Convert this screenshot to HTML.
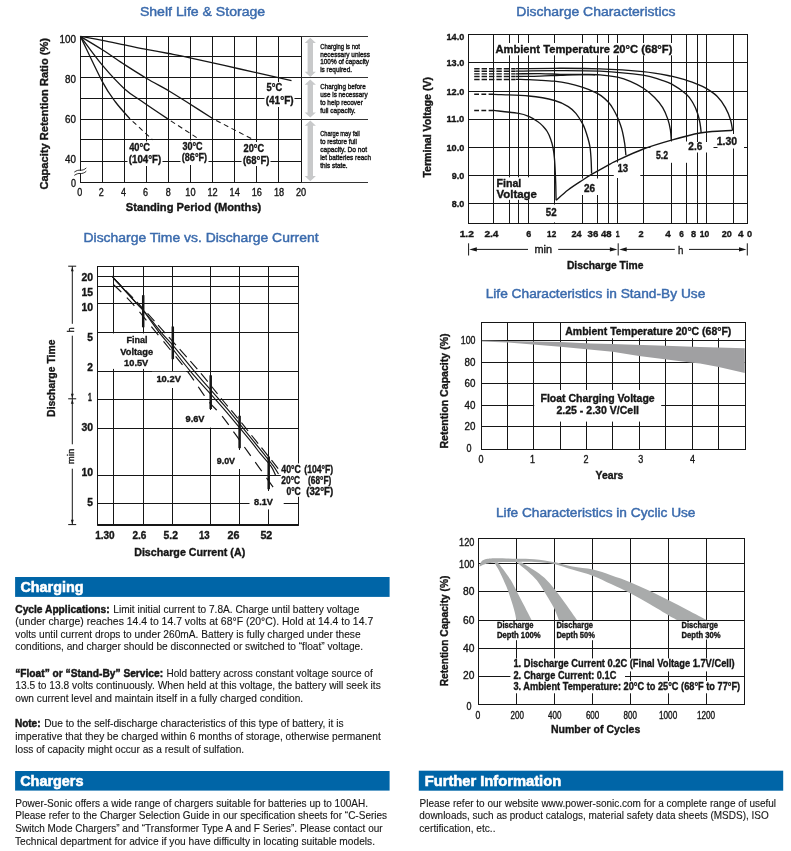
<!DOCTYPE html>
<html lang="en"><head><meta charset="utf-8"><title>Battery characteristics</title>
<style>
html,body{margin:0;padding:0;background:#fff}
svg{display:block}
text{font-family:"Liberation Sans",sans-serif}
</style></head><body>
<svg width="791" height="851" viewBox="0 0 791 851">
<text x="139.9" y="15.7" font-size="13.4" textLength="125.3" lengthAdjust="spacingAndGlyphs" fill="#3b6bad" stroke="#3b6bad" stroke-width="0.45">Shelf Life &amp; Storage</text>
<g id="c1">
<path d="M80.5 36.0V183.0M102.5 36.0V183.0M124.5 36.0V183.0M146.5 36.0V183.0M168.5 36.0V183.0M190.5 36.0V183.0M212.5 36.0V183.0M234.5 36.0V183.0M256.5 36.0V183.0M278.5 36.0V183.0M301.5 36.0V183.0M80.0 36.5H302.0M80.0 56.5H302.0M80.0 77.5H302.0M80.0 98.5H302.0M80.0 119.5H302.0M80.0 139.5H302.0M80.0 161.5H302.0M80.0 182.5H302.0" stroke="#161616" stroke-width="1.0" fill="none"/>
<rect x="127.5" y="141.5" width="35.0" height="24.5" fill="#fff"/>
<rect x="180.5" y="140.5" width="28.0" height="24.5" fill="#fff"/>
<rect x="241.5" y="142.0" width="29.0" height="24.0" fill="#fff"/>
<rect x="264.5" y="82.0" width="30.0" height="25.0" fill="#fff"/>
<line x1="301.3" y1="36.5" x2="368.0" y2="36.5" stroke="#333" stroke-width="1.2"/>
<line x1="301.3" y1="77.5" x2="368.0" y2="77.5" stroke="#333" stroke-width="1.2"/>
<line x1="301.3" y1="119.5" x2="368.0" y2="119.5" stroke="#333" stroke-width="1.2"/>
<line x1="301.3" y1="182.5" x2="368.0" y2="182.5" stroke="#333" stroke-width="1.2"/>
<path d="M310.3 37.8l5.6 5.2h-2.8999999999999995V71.8h2.8999999999999995L310.3 77l-5.6 -5.2h2.8999999999999995V43.0h-2.8999999999999995z" fill="#c8c9ca"/>
<path d="M310.3 79.6l5.6 5.2h-2.8999999999999995V112.39999999999999h2.8999999999999995L310.3 117.6l-5.6 -5.2h2.8999999999999995V84.8h-2.8999999999999995z" fill="#c8c9ca"/>
<path d="M310.3 120.5l5.6 5.2h-2.8999999999999995V176.10000000000002h2.8999999999999995L310.3 181.3l-5.6 -5.2h2.8999999999999995V125.7h-2.8999999999999995z" fill="#c8c9ca"/>
<path d="M80.4 36.4C84.1 37.0 94.9 38.9 102.3 40.3C109.7 41.7 117.3 43.4 124.6 44.9C131.9 46.4 139.0 48.0 146.3 49.4C153.6 50.8 161.3 52.1 168.6 53.5C175.9 54.9 178.1 55.2 190.0 57.8C201.9 60.4 223.1 65.2 240.0 69.0C256.9 72.8 282.9 78.7 291.5 80.6" stroke="#161616" stroke-width="1.3" fill="none"/>
<path d="M80.4 36.4C84.1 38.6 94.9 45.0 102.3 49.7C109.7 54.4 117.3 59.8 124.6 64.6C131.9 69.3 139.0 73.8 146.3 78.2C153.6 82.6 161.8 86.7 168.6 90.7C175.3 94.7 179.4 97.3 186.8 102.0C194.2 106.7 208.6 116.0 213.0 118.8" stroke="#161616" stroke-width="1.3" fill="none"/>
<path d="M80.4 36.4C84.1 41.2 94.9 56.5 102.3 65.2C109.7 74.0 117.8 82.8 124.6 88.9C131.3 95.0 135.6 97.0 142.8 102.0C150.0 107.0 163.6 116.1 167.8 118.9" stroke="#161616" stroke-width="1.3" fill="none"/>
<path d="M80.4 36.4C84.1 43.9 96.5 70.7 102.3 81.6C108.1 92.5 110.9 95.8 115.5 102.0C120.1 108.2 127.6 116.1 130.0 118.9" stroke="#161616" stroke-width="1.3" fill="none"/>
<line x1="213.0" y1="118.8" x2="253.0" y2="139.5" stroke="#161616" stroke-width="1.05" stroke-dasharray="5 3.6" stroke-dashoffset="5"/>
<line x1="167.8" y1="118.9" x2="198.9" y2="139.0" stroke="#161616" stroke-width="1.05" stroke-dasharray="5 3.6" stroke-dashoffset="5"/>
<line x1="130.0" y1="118.9" x2="152.6" y2="139.8" stroke="#161616" stroke-width="1.05" stroke-dasharray="5 3.6" stroke-dashoffset="5"/>
<rect x="79.0" y="170.9" width="3.0" height="2.3" fill="#fff"/>
<path d="M74.3 172.1c2.4 -1.7 4.2 -2.1 6 -1.9s4.2 -0.5 6 -2.3M74.3 175.4c2.4 -1.7 4.2 -2.1 6 -1.9s4.2 -0.5 6 -2.3" stroke="#161616" stroke-width="0.9" fill="none"/>
<text x="59.4" y="42.7" font-size="10.0" textLength="16.5" lengthAdjust="spacingAndGlyphs" fill="#161616" stroke="#161616" stroke-width="0.35">100</text>
<text x="65.0" y="82.5" font-size="10.0" textLength="10.9" lengthAdjust="spacingAndGlyphs" fill="#161616" stroke="#161616" stroke-width="0.35">80</text>
<text x="65.0" y="122.7" font-size="10.0" textLength="10.9" lengthAdjust="spacingAndGlyphs" fill="#161616" stroke="#161616" stroke-width="0.35">60</text>
<text x="65.0" y="163.1" font-size="10.0" textLength="10.9" lengthAdjust="spacingAndGlyphs" fill="#161616" stroke="#161616" stroke-width="0.35">40</text>
<text x="70.9" y="186.6" font-size="10.0" textLength="5.0" lengthAdjust="spacingAndGlyphs" fill="#161616" stroke="#161616" stroke-width="0.35">0</text>
<text x="77.3" y="195.6" font-size="10.0" textLength="5.0" lengthAdjust="spacingAndGlyphs" fill="#161616" stroke="#161616" stroke-width="0.35">0</text>
<text x="98.8" y="195.6" font-size="10.0" textLength="5.0" lengthAdjust="spacingAndGlyphs" fill="#161616" stroke="#161616" stroke-width="0.35">2</text>
<text x="121.0" y="195.6" font-size="10.0" textLength="5.0" lengthAdjust="spacingAndGlyphs" fill="#161616" stroke="#161616" stroke-width="0.35">4</text>
<text x="143.1" y="195.6" font-size="10.0" textLength="5.0" lengthAdjust="spacingAndGlyphs" fill="#161616" stroke="#161616" stroke-width="0.35">6</text>
<text x="165.8" y="195.6" font-size="10.0" textLength="5.0" lengthAdjust="spacingAndGlyphs" fill="#161616" stroke="#161616" stroke-width="0.35">8</text>
<text x="185.3" y="195.6" font-size="10.0" textLength="10.2" lengthAdjust="spacingAndGlyphs" fill="#161616" stroke="#161616" stroke-width="0.35">10</text>
<text x="207.5" y="195.6" font-size="10.0" textLength="10.2" lengthAdjust="spacingAndGlyphs" fill="#161616" stroke="#161616" stroke-width="0.35">12</text>
<text x="229.6" y="195.6" font-size="10.0" textLength="10.2" lengthAdjust="spacingAndGlyphs" fill="#161616" stroke="#161616" stroke-width="0.35">14</text>
<text x="251.7" y="195.6" font-size="10.0" textLength="10.2" lengthAdjust="spacingAndGlyphs" fill="#161616" stroke="#161616" stroke-width="0.35">16</text>
<text x="273.9" y="195.6" font-size="10.0" textLength="10.2" lengthAdjust="spacingAndGlyphs" fill="#161616" stroke="#161616" stroke-width="0.35">18</text>
<text x="296.0" y="195.6" font-size="10.0" textLength="10.2" lengthAdjust="spacingAndGlyphs" fill="#161616" stroke="#161616" stroke-width="0.35">20</text>
<text x="125.8" y="211.4" font-size="10.4" textLength="135.5" lengthAdjust="spacingAndGlyphs" font-weight="bold" fill="#161616" stroke="#161616" stroke-width="0.35">Standing Period (Months)</text>
<text transform="translate(47.6 113.8) rotate(-90)" font-size="10.2" fill="#161616" text-anchor="middle" textLength="151.6" lengthAdjust="spacingAndGlyphs" font-weight="bold" stroke="#161616" stroke-width="0.35">Capacity Retention Ratio (%)</text>
<text x="129.2" y="150.7" font-size="10.6" textLength="20.8" lengthAdjust="spacingAndGlyphs" font-weight="bold" fill="#161616" stroke="#161616" stroke-width="0.35">40°C</text>
<text x="128.8" y="163.1" font-size="10.6" textLength="32.4" lengthAdjust="spacingAndGlyphs" font-weight="bold" fill="#161616" stroke="#161616" stroke-width="0.35">(104°F)</text>
<text x="182.4" y="149.7" font-size="10.6" textLength="20.2" lengthAdjust="spacingAndGlyphs" font-weight="bold" fill="#161616" stroke="#161616" stroke-width="0.35">30°C</text>
<text x="181.8" y="161.0" font-size="10.6" textLength="25.3" lengthAdjust="spacingAndGlyphs" font-weight="bold" fill="#161616" stroke="#161616" stroke-width="0.35">(86°F)</text>
<text x="243.5" y="151.8" font-size="10.6" textLength="20.6" lengthAdjust="spacingAndGlyphs" font-weight="bold" fill="#161616" stroke="#161616" stroke-width="0.35">20°C</text>
<text x="242.9" y="163.5" font-size="10.6" textLength="26.5" lengthAdjust="spacingAndGlyphs" font-weight="bold" fill="#161616" stroke="#161616" stroke-width="0.35">(68°F)</text>
<text x="266.5" y="91.2" font-size="10.6" textLength="15.7" lengthAdjust="spacingAndGlyphs" font-weight="bold" fill="#161616" stroke="#161616" stroke-width="0.35">5°C</text>
<text x="265.7" y="104.1" font-size="10.6" textLength="27.9" lengthAdjust="spacingAndGlyphs" font-weight="bold" fill="#161616" stroke="#161616" stroke-width="0.35">(41°F)</text>
<text x="320.2" y="48.7" font-size="7.4" textLength="39.7" lengthAdjust="spacingAndGlyphs" fill="#161616" stroke="#161616" stroke-width="0.4">Charging is not</text>
<text x="320.2" y="56.5" font-size="7.4" textLength="49.8" lengthAdjust="spacingAndGlyphs" fill="#161616" stroke="#161616" stroke-width="0.4">necessary unless</text>
<text x="320.2" y="64.4" font-size="7.4" textLength="48.9" lengthAdjust="spacingAndGlyphs" fill="#161616" stroke="#161616" stroke-width="0.4">100% of capacity</text>
<text x="320.2" y="72.0" font-size="7.4" textLength="31.8" lengthAdjust="spacingAndGlyphs" fill="#161616" stroke="#161616" stroke-width="0.4">is required.</text>
<text x="320.2" y="88.8" font-size="7.4" textLength="45.5" lengthAdjust="spacingAndGlyphs" fill="#161616" stroke="#161616" stroke-width="0.4">Charging before</text>
<text x="320.2" y="96.8" font-size="7.4" textLength="47.4" lengthAdjust="spacingAndGlyphs" fill="#161616" stroke="#161616" stroke-width="0.4">use is necessary</text>
<text x="320.2" y="105.0" font-size="7.4" textLength="42.6" lengthAdjust="spacingAndGlyphs" fill="#161616" stroke="#161616" stroke-width="0.4">to help recover</text>
<text x="320.2" y="112.9" font-size="7.4" textLength="35.4" lengthAdjust="spacingAndGlyphs" fill="#161616" stroke="#161616" stroke-width="0.4">full capacity.</text>
<text x="320.2" y="135.7" font-size="7.4" textLength="39.7" lengthAdjust="spacingAndGlyphs" fill="#161616" stroke="#161616" stroke-width="0.4">Charge may fail</text>
<text x="320.2" y="144.0" font-size="7.4" textLength="36.7" lengthAdjust="spacingAndGlyphs" fill="#161616" stroke="#161616" stroke-width="0.4">to restore full</text>
<text x="320.2" y="151.8" font-size="7.4" textLength="46.8" lengthAdjust="spacingAndGlyphs" fill="#161616" stroke="#161616" stroke-width="0.4">capacity. Do not</text>
<text x="320.2" y="159.8" font-size="7.4" textLength="50.8" lengthAdjust="spacingAndGlyphs" fill="#161616" stroke="#161616" stroke-width="0.4">let batteries reach</text>
<text x="320.2" y="167.6" font-size="7.4" textLength="27.4" lengthAdjust="spacingAndGlyphs" fill="#161616" stroke="#161616" stroke-width="0.4">this state.</text>
</g>
<text x="516.3" y="15.7" font-size="13.4" textLength="159.2" lengthAdjust="spacingAndGlyphs" fill="#3b6bad" stroke="#3b6bad" stroke-width="0.45">Discharge Characteristics</text>
<g id="c2">
<path d="M468.5 34.0V224.0M493.5 34.0V224.0M509.5 34.0V224.0M518.5 34.0V224.0M528.5 34.0V224.0M554.5 34.0V224.0M582.5 34.0V224.0M597.5 34.0V224.0M608.5 34.0V224.0M617.5 34.0V224.0M643.5 34.0V224.0M671.5 34.0V224.0M686.5 34.0V224.0M697.5 34.0V224.0M706.5 34.0V224.0M733.5 34.0V224.0M747.5 34.0V224.0M468.0 34.5H748.0M468.0 62.5H748.0M468.0 91.5H748.0M468.0 119.5H748.0M468.0 147.5H748.0M468.0 175.5H748.0M468.0 203.5H748.0M468.0 223.5H748.0" stroke="#161616" stroke-width="1.0" fill="none"/>
<rect x="494.5" y="43.0" width="180.0" height="12.3" fill="#fff"/>
<rect x="494.6" y="177.3" width="44.0" height="22.5" fill="#fff"/>
<rect x="544.0" y="204.6" width="14.0" height="17.8" fill="#fff"/>
<rect x="580.5" y="178.5" width="18.5" height="16.5" fill="#fff"/>
<rect x="613.8" y="162.5" width="26.5" height="15.5" fill="#fff"/>
<rect x="650.4" y="141.5" width="37.0" height="21.3" fill="#fff"/>
<rect x="686.0" y="142.0" width="27.5" height="10.5" fill="#fff"/>
<rect x="717.5" y="134.0" width="26.5" height="14.5" fill="#fff"/>
<path d="M556.1 200.3C558.1 198.6 563.7 193.3 568.0 190.0C572.3 186.7 578.0 183.1 582.0 180.5C586.0 177.9 587.3 176.9 592.0 174.2C596.7 171.5 605.8 166.4 610.0 164.1C614.2 161.8 612.0 162.8 617.5 160.3C623.0 157.8 634.3 152.4 643.3 149.0C652.3 145.6 662.0 142.8 671.5 140.1C681.0 137.4 691.7 134.5 700.0 133.0C708.3 131.5 716.0 131.4 721.4 131.0C726.8 130.6 730.7 130.5 732.6 130.4" stroke="#161616" stroke-width="1.35" fill="none"/>
<path d="M493.5 110.4C497.7 110.9 512.8 112.4 518.7 113.4C524.6 114.4 525.6 115.0 528.8 116.4C532.0 117.8 535.5 120.1 537.9 121.7C540.3 123.3 541.5 124.6 543.0 126.2C544.5 127.8 545.9 129.4 547.2 131.5C548.5 133.6 549.7 136.4 550.6 139.0C551.5 141.6 552.3 144.0 552.9 147.2C553.5 150.4 554.0 153.7 554.4 158.0C554.8 162.3 555.1 168.3 555.3 173.0C555.5 177.7 555.7 181.4 555.8 186.0C555.9 190.6 556.0 197.9 556.1 200.3" stroke="#161616" stroke-width="1.35" fill="none"/>
<path d="M493.5 94.3C499.4 94.6 518.6 95.0 528.8 96.0C539.0 97.0 548.0 98.7 554.6 100.5C561.2 102.3 564.8 104.4 568.3 106.6C571.8 108.8 573.5 110.6 575.9 113.4C578.2 116.2 580.8 120.5 582.4 123.3C584.0 126.1 584.4 127.5 585.3 130.0C586.2 132.5 587.2 135.7 588.0 138.5C588.8 141.3 589.5 143.8 590.0 147.0C590.5 150.2 590.7 153.6 591.0 158.0C591.3 162.4 591.5 170.9 591.6 173.5" stroke="#161616" stroke-width="1.35" fill="none"/>
<path d="M516.0 79.3C518.2 79.4 524.8 79.5 529.0 79.7C533.2 79.9 536.8 80.0 541.0 80.3C545.2 80.5 549.8 80.7 554.3 81.2C558.8 81.7 563.6 82.4 568.2 83.4C572.8 84.4 577.9 85.8 582.1 87.2C586.3 88.6 590.4 90.2 593.5 91.6C596.6 93.0 598.5 93.8 601.0 95.6C603.5 97.4 606.4 100.0 608.5 102.3C610.6 104.6 612.0 106.9 613.5 109.5C615.0 112.1 616.6 115.3 617.7 117.8C618.8 120.3 619.5 122.2 620.3 124.5C621.1 126.8 621.8 128.8 622.5 131.9C623.2 135.0 624.0 139.1 624.6 143.0C625.2 146.9 625.7 153.2 625.9 155.3" stroke="#161616" stroke-width="1.35" fill="none"/>
<path d="M516.0 73.9C520.0 73.9 532.7 73.5 540.0 73.6C547.3 73.7 553.3 74.1 560.0 74.3C566.7 74.5 573.3 74.4 580.0 74.5C586.7 74.6 593.7 74.3 600.0 74.8C606.3 75.2 612.6 76.1 617.6 77.2C622.6 78.3 626.0 79.5 630.3 81.3C634.5 83.1 639.0 85.3 643.1 88.0C647.2 90.7 651.3 94.2 654.6 97.5C657.9 100.8 660.5 104.0 662.7 107.6C664.9 111.2 666.5 115.4 667.8 119.1C669.1 122.8 669.8 126.3 670.4 129.8C671.0 133.3 671.1 138.3 671.3 140.0" stroke="#161616" stroke-width="1.35" fill="none"/>
<path d="M516.0 76.5C520.0 76.4 532.7 76.3 540.0 76.1C547.3 75.9 553.3 75.5 560.0 75.3C566.7 75.1 574.2 74.8 580.0 74.7C585.8 74.6 592.5 74.7 595.0 74.7" stroke="#161616" stroke-width="1.35" fill="none"/>
<path d="M516.0 71.2C522.4 71.1 540.6 70.6 554.6 70.6C568.6 70.6 585.2 70.4 600.0 71.2C614.8 72.0 633.0 73.8 643.1 75.2C653.2 76.7 656.0 78.5 660.7 79.9C665.4 81.4 667.1 81.5 671.4 83.9C675.7 86.3 683.0 91.2 686.6 94.4C690.2 97.6 691.1 99.8 693.0 103.0C694.9 106.2 696.5 110.2 697.7 113.7C698.9 117.2 699.5 120.6 700.1 123.8C700.7 127.0 701.0 131.5 701.2 133.0" stroke="#161616" stroke-width="1.35" fill="none"/>
<path d="M516.0 68.7C522.4 68.6 540.6 68.3 554.6 68.3C568.6 68.3 585.2 68.2 600.0 68.8C614.8 69.3 631.2 70.4 643.1 71.6C655.0 72.8 664.1 74.8 671.4 76.2C678.6 77.7 682.2 79.0 686.6 80.3C691.0 81.6 694.4 82.9 697.7 84.3C701.0 85.7 702.9 86.4 706.2 88.4C709.5 90.4 714.1 93.3 717.3 96.5C720.5 99.7 723.2 103.7 725.4 107.6C727.6 111.5 729.3 115.9 730.5 119.7C731.7 123.5 732.2 128.5 732.5 130.3" stroke="#161616" stroke-width="1.35" fill="none"/>
<line x1="474.2" y1="68.7" x2="515.6" y2="68.7" stroke="#161616" stroke-width="1.35" stroke-dasharray="5.4 2"/>
<line x1="474.2" y1="71.2" x2="515.6" y2="71.2" stroke="#161616" stroke-width="1.35" stroke-dasharray="5.4 2"/>
<line x1="474.2" y1="73.9" x2="515.6" y2="73.9" stroke="#161616" stroke-width="1.35" stroke-dasharray="5.4 2"/>
<line x1="474.2" y1="76.5" x2="515.6" y2="76.5" stroke="#161616" stroke-width="1.35" stroke-dasharray="5.4 2"/>
<line x1="474.2" y1="79.5" x2="515.6" y2="79.5" stroke="#161616" stroke-width="1.35" stroke-dasharray="5.4 2"/>
<line x1="474.2" y1="94.3" x2="493.4" y2="94.3" stroke="#161616" stroke-width="1.55" stroke-dasharray="4.8 2.4"/>
<line x1="474.2" y1="110.4" x2="493.4" y2="110.4" stroke="#161616" stroke-width="1.55" stroke-dasharray="4.8 2.4"/>
<text x="446.5" y="39.8" font-size="9.8" textLength="17.8" lengthAdjust="spacingAndGlyphs" font-weight="bold" fill="#161616" stroke="#161616" stroke-width="0.35">14.0</text>
<text x="446.5" y="65.9" font-size="9.8" textLength="17.8" lengthAdjust="spacingAndGlyphs" font-weight="bold" fill="#161616" stroke="#161616" stroke-width="0.35">13.0</text>
<text x="446.5" y="94.7" font-size="9.8" textLength="17.8" lengthAdjust="spacingAndGlyphs" font-weight="bold" fill="#161616" stroke="#161616" stroke-width="0.35">12.0</text>
<text x="446.5" y="122.4" font-size="9.8" textLength="17.8" lengthAdjust="spacingAndGlyphs" font-weight="bold" fill="#161616" stroke="#161616" stroke-width="0.35">11.0</text>
<text x="446.5" y="150.5" font-size="9.8" textLength="17.8" lengthAdjust="spacingAndGlyphs" font-weight="bold" fill="#161616" stroke="#161616" stroke-width="0.35">10.0</text>
<text x="451.7" y="179.0" font-size="9.8" textLength="12.6" lengthAdjust="spacingAndGlyphs" font-weight="bold" fill="#161616" stroke="#161616" stroke-width="0.35">9.0</text>
<text x="451.7" y="206.7" font-size="9.8" textLength="12.6" lengthAdjust="spacingAndGlyphs" font-weight="bold" fill="#161616" stroke="#161616" stroke-width="0.35">8.0</text>
<text x="459.7" y="236.6" font-size="9.8" textLength="14.2" lengthAdjust="spacingAndGlyphs" font-weight="bold" fill="#161616" stroke="#161616" stroke-width="0.35">1.2</text>
<text x="484.4" y="236.6" font-size="9.8" textLength="14.1" lengthAdjust="spacingAndGlyphs" font-weight="bold" fill="#161616" stroke="#161616" stroke-width="0.35">2.4</text>
<text x="526.3" y="236.6" font-size="9.8" textLength="5.0" lengthAdjust="spacingAndGlyphs" font-weight="bold" fill="#161616" stroke="#161616" stroke-width="0.35">6</text>
<text x="547.1" y="236.6" font-size="9.8" textLength="9.1" lengthAdjust="spacingAndGlyphs" font-weight="bold" fill="#161616" stroke="#161616" stroke-width="0.35">12</text>
<text x="571.4" y="236.6" font-size="9.8" textLength="10.1" lengthAdjust="spacingAndGlyphs" font-weight="bold" fill="#161616" stroke="#161616" stroke-width="0.35">24</text>
<text x="587.5" y="236.6" font-size="9.8" textLength="10.8" lengthAdjust="spacingAndGlyphs" font-weight="bold" fill="#161616" stroke="#161616" stroke-width="0.35">36</text>
<text x="601.0" y="236.6" font-size="9.8" textLength="10.7" lengthAdjust="spacingAndGlyphs" font-weight="bold" fill="#161616" stroke="#161616" stroke-width="0.35">48</text>
<text x="615.8" y="236.6" font-size="9.8" textLength="3.8" lengthAdjust="spacingAndGlyphs" font-weight="bold" fill="#161616" stroke="#161616" stroke-width="0.35">1</text>
<text x="638.4" y="236.6" font-size="9.8" textLength="5.1" lengthAdjust="spacingAndGlyphs" font-weight="bold" fill="#161616" stroke="#161616" stroke-width="0.35">2</text>
<text x="665.3" y="236.6" font-size="9.8" textLength="5.5" lengthAdjust="spacingAndGlyphs" font-weight="bold" fill="#161616" stroke="#161616" stroke-width="0.35">4</text>
<text x="679.3" y="236.6" font-size="9.8" textLength="4.6" lengthAdjust="spacingAndGlyphs" font-weight="bold" fill="#161616" stroke="#161616" stroke-width="0.35">6</text>
<text x="691.0" y="236.6" font-size="9.8" textLength="5.1" lengthAdjust="spacingAndGlyphs" font-weight="bold" fill="#161616" stroke="#161616" stroke-width="0.35">8</text>
<text x="699.7" y="236.6" font-size="9.8" textLength="9.5" lengthAdjust="spacingAndGlyphs" font-weight="bold" fill="#161616" stroke="#161616" stroke-width="0.35">10</text>
<text x="721.8" y="236.6" font-size="9.8" textLength="10.1" lengthAdjust="spacingAndGlyphs" font-weight="bold" fill="#161616" stroke="#161616" stroke-width="0.35">20</text>
<text x="738.1" y="236.6" font-size="9.8" textLength="5.5" lengthAdjust="spacingAndGlyphs" font-weight="bold" fill="#161616" stroke="#161616" stroke-width="0.35">4</text>
<text x="747.0" y="236.6" font-size="9.8" textLength="5.1" lengthAdjust="spacingAndGlyphs" font-weight="bold" fill="#161616" stroke="#161616" stroke-width="0.35">0</text>
<path d="M468.6 243.3V255.5M618.2 243.3V255.5M747.3 243.3V255.5M476 249.4H528M558.2 249.4H611M626 249.4H674.8M689 249.4H740" stroke="#161616" stroke-width="1" fill="none"/>
<path d="M469.3 249.4l7.5 -2.2v4.4z" fill="#161616"/>
<path d="M617.4 249.4l-7.5 -2.2v4.4z" fill="#161616"/>
<path d="M619.2 249.4l7.5 -2.2v4.4z" fill="#161616"/>
<path d="M746.5 249.4l-7.5 -2.2v4.4z" fill="#161616"/>
<text x="534.5" y="253.0" font-size="10.6" textLength="17.6" lengthAdjust="spacingAndGlyphs" fill="#161616" stroke="#161616" stroke-width="0.35">min</text>
<text x="677.9" y="254.4" font-size="10.6" textLength="5.4" lengthAdjust="spacingAndGlyphs" fill="#161616" stroke="#161616" stroke-width="0.35">h</text>
<text x="566.9" y="268.6" font-size="10.4" textLength="76.6" lengthAdjust="spacingAndGlyphs" font-weight="bold" fill="#161616" stroke="#161616" stroke-width="0.35">Discharge Time</text>
<text transform="translate(431.4 127.3) rotate(-90)" font-size="10" fill="#161616" text-anchor="middle" textLength="100.5" lengthAdjust="spacingAndGlyphs" font-weight="bold" stroke="#161616" stroke-width="0.35">Terminal Voltage (V)</text>
<text x="495.4" y="52.7" font-size="10.8" textLength="177.0" lengthAdjust="spacingAndGlyphs" font-weight="bold" fill="#161616" stroke="#161616" stroke-width="0.35">Ambient Temperature 20°C (68°F)</text>
<text x="496.5" y="186.8" font-size="10.8" textLength="24.8" lengthAdjust="spacingAndGlyphs" font-weight="bold" fill="#161616" stroke="#161616" stroke-width="0.35">Final</text>
<text x="496.5" y="197.7" font-size="10.8" textLength="40.4" lengthAdjust="spacingAndGlyphs" font-weight="bold" fill="#161616" stroke="#161616" stroke-width="0.35">Voltage</text>
<text x="545.8" y="216.0" font-size="10.8" textLength="10.8" lengthAdjust="spacingAndGlyphs" font-weight="bold" fill="#161616" stroke="#161616" stroke-width="0.35">52</text>
<text x="584.0" y="192.0" font-size="10.8" textLength="11.1" lengthAdjust="spacingAndGlyphs" font-weight="bold" fill="#161616" stroke="#161616" stroke-width="0.35">26</text>
<text x="617.5" y="172.4" font-size="10.8" textLength="10.7" lengthAdjust="spacingAndGlyphs" font-weight="bold" fill="#161616" stroke="#161616" stroke-width="0.35">13</text>
<text x="656.0" y="158.5" font-size="10.8" textLength="12.1" lengthAdjust="spacingAndGlyphs" font-weight="bold" fill="#161616" stroke="#161616" stroke-width="0.35">5.2</text>
<text x="688.3" y="149.7" font-size="10.8" textLength="14.0" lengthAdjust="spacingAndGlyphs" font-weight="bold" fill="#161616" stroke="#161616" stroke-width="0.35">2.6</text>
<text x="716.7" y="144.7" font-size="10.8" textLength="20.4" lengthAdjust="spacingAndGlyphs" font-weight="bold" fill="#161616" stroke="#161616" stroke-width="0.35">1.30</text>
</g>
<text x="83.5" y="242.3" font-size="13.4" textLength="235.0" lengthAdjust="spacingAndGlyphs" fill="#3b6bad" stroke="#3b6bad" stroke-width="0.45">Discharge Time vs. Discharge Current</text>
<g id="c3">
<path d="M97.5 266.0V525.5M113.5 266.0V525.5M143.5 266.0V525.5M172.5 266.0V525.5M210.5 266.0V525.5M239.5 266.0V525.5M268.5 266.0V525.5M298.5 266.0V525.5M97.0 266.5H299.0M97.0 276.5H299.0M97.0 286.5H299.0M97.0 303.5H299.0M97.0 332.5H299.0M97.0 371.5H299.0M97.0 399.5H299.0M97.0 428.5H299.0M97.0 475.5H299.0M97.0 503.5H299.0" stroke="#161616" stroke-width="1.0" fill="none"/>
<line x1="97.3" y1="525.0" x2="298.8" y2="525.0" stroke="#161616" stroke-width="2"/>
<rect x="98.6" y="333.4" width="57.0" height="35.5" fill="#fff"/>
<rect x="152.0" y="371.8" width="34.0" height="16.2" fill="#fff"/>
<rect x="183.0" y="410.0" width="29.0" height="17.6" fill="#fff"/>
<rect x="214.0" y="450.0" width="27.0" height="19.0" fill="#fff"/>
<rect x="249.5" y="491.0" width="34.2" height="18.4" fill="#fff"/>
<rect x="280.8" y="463.4" width="55.0" height="33.4" fill="#fff"/>
<line x1="143.2" y1="295.2" x2="143.2" y2="327.3" stroke="#161616" stroke-width="2.5"/>
<line x1="172.8" y1="326.5" x2="172.8" y2="359.2" stroke="#161616" stroke-width="2.5"/>
<line x1="210.7" y1="375.3" x2="210.7" y2="409.0" stroke="#161616" stroke-width="2.5"/>
<line x1="239.6" y1="415.8" x2="239.6" y2="448.2" stroke="#161616" stroke-width="2.5"/>
<line x1="268.7" y1="456.5" x2="268.7" y2="489.2" stroke="#161616" stroke-width="2.5"/>
<path d="M111.9 276.1C116.0 280.6 131.1 297.4 136.3 303.1C141.5 308.8 139.3 305.5 143.2 310.5C147.1 315.5 154.9 326.9 159.5 332.9C164.1 338.9 165.6 340.0 170.7 346.3C175.8 352.6 182.4 361.9 190.0 370.8C197.6 379.8 209.4 392.6 216.0 400.0C222.6 407.4 223.6 408.5 229.3 415.3C235.0 422.1 245.2 434.3 250.3 440.6C255.4 446.9 256.6 449.0 260.0 453.2C263.4 457.4 268.2 462.3 270.8 465.9C273.4 469.5 274.7 473.5 275.5 475.0" stroke="#161616" stroke-width="1.15" fill="none"/>
<path d="M111.9 276.1C116.0 280.6 131.2 297.4 136.5 303.1C141.8 308.8 139.4 305.5 143.6 310.5C147.8 315.5 156.6 326.9 161.6 332.9C166.6 338.9 168.4 340.0 173.8 346.3C179.2 352.6 186.4 361.9 194.0 370.8C201.6 379.8 213.1 392.6 219.5 400.0C225.9 407.4 227.0 408.5 232.6 415.3C238.2 422.1 248.0 434.3 253.1 440.6C258.2 446.9 259.8 449.0 263.2 453.2C266.6 457.4 270.8 462.4 273.3 465.9C275.9 469.4 277.6 472.6 278.5 474.0" stroke="#161616" stroke-width="1.15" fill="none"/>
<path d="M114.3 279.0C118.2 283.0 129.6 294.1 138.0 303.1C146.4 312.1 154.9 321.6 165.0 332.9C175.1 344.2 189.1 359.6 198.7 370.8C208.3 382.0 216.4 392.6 222.5 400.0C228.6 407.4 229.8 408.5 235.4 415.3C241.0 422.1 250.7 434.3 255.8 440.6C260.9 446.9 262.5 449.0 265.9 453.2C269.3 457.4 273.6 462.8 276.0 465.9C278.4 469.0 279.8 470.7 280.5 471.7" stroke="#161616" stroke-width="1.15" fill="none" stroke-dasharray="10.5 5.5"/>
<path d="M113.4 284.5C116.5 287.6 124.8 295.0 132.0 303.1C139.2 311.2 147.3 321.6 156.5 332.9C165.7 344.2 178.5 359.6 187.0 370.8C195.5 382.0 201.8 392.6 207.5 400.0C213.2 407.4 216.9 409.6 221.5 415.3C226.1 421.0 231.1 428.3 235.3 434.2C239.6 440.1 243.1 445.2 247.0 450.7C250.9 456.2 254.2 460.7 258.8 467.1C263.4 473.5 271.9 485.4 274.5 489.0" stroke="#161616" stroke-width="1.15" fill="none" stroke-dasharray="11 8"/>
<text x="81.4" y="281.0" font-size="10.4" textLength="11.6" lengthAdjust="spacingAndGlyphs" font-weight="bold" fill="#161616" stroke="#161616" stroke-width="0.35">20</text>
<text x="81.4" y="295.7" font-size="10.4" textLength="11.6" lengthAdjust="spacingAndGlyphs" font-weight="bold" fill="#161616" stroke="#161616" stroke-width="0.35">15</text>
<text x="81.4" y="311.0" font-size="10.4" textLength="11.6" lengthAdjust="spacingAndGlyphs" font-weight="bold" fill="#161616" stroke="#161616" stroke-width="0.35">10</text>
<text x="87.3" y="340.6" font-size="10.4" textLength="5.7" lengthAdjust="spacingAndGlyphs" font-weight="bold" fill="#161616" stroke="#161616" stroke-width="0.35">5</text>
<text x="87.3" y="371.0" font-size="10.4" textLength="5.7" lengthAdjust="spacingAndGlyphs" font-weight="bold" fill="#161616" stroke="#161616" stroke-width="0.35">2</text>
<text x="87.9" y="400.7" font-size="10.4" textLength="3.8" lengthAdjust="spacingAndGlyphs" font-weight="bold" fill="#161616" stroke="#161616" stroke-width="0.35">1</text>
<text x="81.4" y="430.7" font-size="10.4" textLength="11.6" lengthAdjust="spacingAndGlyphs" font-weight="bold" fill="#161616" stroke="#161616" stroke-width="0.35">30</text>
<text x="81.4" y="475.6" font-size="10.4" textLength="11.6" lengthAdjust="spacingAndGlyphs" font-weight="bold" fill="#161616" stroke="#161616" stroke-width="0.35">10</text>
<text x="87.3" y="506.0" font-size="10.4" textLength="5.7" lengthAdjust="spacingAndGlyphs" font-weight="bold" fill="#161616" stroke="#161616" stroke-width="0.35">5</text>
<text x="95.2" y="538.9" font-size="10.4" textLength="19.5" lengthAdjust="spacingAndGlyphs" font-weight="bold" fill="#161616" stroke="#161616" stroke-width="0.35">1.30</text>
<text x="132.4" y="538.9" font-size="10.4" textLength="13.9" lengthAdjust="spacingAndGlyphs" font-weight="bold" fill="#161616" stroke="#161616" stroke-width="0.35">2.6</text>
<text x="163.5" y="538.9" font-size="10.4" textLength="14.4" lengthAdjust="spacingAndGlyphs" font-weight="bold" fill="#161616" stroke="#161616" stroke-width="0.35">5.2</text>
<text x="199.0" y="538.9" font-size="10.4" textLength="10.7" lengthAdjust="spacingAndGlyphs" font-weight="bold" fill="#161616" stroke="#161616" stroke-width="0.35">13</text>
<text x="227.5" y="538.9" font-size="10.4" textLength="11.9" lengthAdjust="spacingAndGlyphs" font-weight="bold" fill="#161616" stroke="#161616" stroke-width="0.35">26</text>
<text x="260.4" y="538.9" font-size="10.4" textLength="11.9" lengthAdjust="spacingAndGlyphs" font-weight="bold" fill="#161616" stroke="#161616" stroke-width="0.35">52</text>
<text x="134.2" y="555.6" font-size="10.4" textLength="111.0" lengthAdjust="spacingAndGlyphs" font-weight="bold" fill="#161616" stroke="#161616" stroke-width="0.35">Discharge Current (A)</text>
<text transform="translate(54.7 378.2) rotate(-90)" font-size="10.3" fill="#161616" text-anchor="middle" textLength="77.4" lengthAdjust="spacingAndGlyphs" font-weight="bold" stroke="#161616" stroke-width="0.35">Discharge Time</text>
<path d="M68.2 266.2H76.2M68.2 398.8H76.2M68.2 524.6H76.2M72.3 266.2V323.8M72.3 335.7V444.3M72.3 468.7V524.6" stroke="#161616" stroke-width="1" fill="none"/>
<path d="M72.3 267l-1.4 4.2h2.8z" fill="#161616"/>
<path d="M72.3 398l-1.4 -4.2h2.8z" fill="#161616"/>
<path d="M72.3 399.6l-1.4 4.2h2.8z" fill="#161616"/>
<path d="M72.3 524l-1.4 -4.2h2.8z" fill="#161616"/>
<text transform="translate(74.1 329.8) rotate(-90)" font-size="9" fill="#161616" text-anchor="middle" textLength="5.2" lengthAdjust="spacingAndGlyphs" stroke="#161616" stroke-width="0.35">h</text>
<text transform="translate(74.1 456.5) rotate(-90)" font-size="9" fill="#161616" text-anchor="middle" textLength="15.5" lengthAdjust="spacingAndGlyphs" stroke="#161616" stroke-width="0.35">min</text>
<text x="126.6" y="342.7" font-size="9.4" textLength="21.0" lengthAdjust="spacingAndGlyphs" font-weight="bold" fill="#161616" stroke="#161616" stroke-width="0.35">Final</text>
<text x="120.3" y="354.8" font-size="9.4" textLength="32.8" lengthAdjust="spacingAndGlyphs" font-weight="bold" fill="#161616" stroke="#161616" stroke-width="0.35">Voltage</text>
<text x="124.1" y="365.7" font-size="9.4" textLength="24.2" lengthAdjust="spacingAndGlyphs" font-weight="bold" fill="#161616" stroke="#161616" stroke-width="0.35">10.5V</text>
<text x="156.4" y="382.2" font-size="9.4" textLength="24.5" lengthAdjust="spacingAndGlyphs" font-weight="bold" fill="#161616" stroke="#161616" stroke-width="0.35">10.2V</text>
<text x="185.5" y="421.9" font-size="9.4" textLength="19.0" lengthAdjust="spacingAndGlyphs" font-weight="bold" fill="#161616" stroke="#161616" stroke-width="0.35">9.6V</text>
<text x="216.7" y="464.1" font-size="9.4" textLength="18.4" lengthAdjust="spacingAndGlyphs" font-weight="bold" fill="#161616" stroke="#161616" stroke-width="0.35">9.0V</text>
<text x="254.1" y="505.1" font-size="9.4" textLength="18.9" lengthAdjust="spacingAndGlyphs" font-weight="bold" fill="#161616" stroke="#161616" stroke-width="0.35">8.1V</text>
<text x="281.3" y="472.8" font-size="10" textLength="19.5" lengthAdjust="spacingAndGlyphs" font-weight="bold" fill="#161616" stroke="#161616" stroke-width="0.35">40°C</text>
<text x="304.3" y="472.8" font-size="10" textLength="28.9" lengthAdjust="spacingAndGlyphs" font-weight="bold" fill="#161616" stroke="#161616" stroke-width="0.35">(104°F)</text>
<text x="281.3" y="483.9" font-size="10" textLength="18.8" lengthAdjust="spacingAndGlyphs" font-weight="bold" fill="#161616" stroke="#161616" stroke-width="0.35">20°C</text>
<text x="308.1" y="483.9" font-size="10" textLength="23.2" lengthAdjust="spacingAndGlyphs" font-weight="bold" fill="#161616" stroke="#161616" stroke-width="0.35">(68°F)</text>
<text x="286.4" y="494.8" font-size="10" textLength="14.4" lengthAdjust="spacingAndGlyphs" font-weight="bold" fill="#161616" stroke="#161616" stroke-width="0.35">0°C</text>
<text x="306.3" y="494.8" font-size="10" textLength="26.9" lengthAdjust="spacingAndGlyphs" font-weight="bold" fill="#161616" stroke="#161616" stroke-width="0.35">(32°F)</text>
</g>
<text x="485.7" y="298.3" font-size="13.4" textLength="219.6" lengthAdjust="spacingAndGlyphs" fill="#3b6bad" stroke="#3b6bad" stroke-width="0.45">Life Characteristics in Stand-By Use</text>
<g id="c4">
<path d="M481.5 322.0V450.0M507.5 322.0V450.0M533.5 322.0V450.0M560.5 322.0V450.0M586.5 322.0V450.0M612.5 322.0V450.0M639.5 322.0V450.0M665.5 322.0V450.0M692.5 322.0V450.0M718.5 322.0V450.0M745.5 322.0V450.0M481.0 322.5H746.0M481.0 340.5H746.0M481.0 362.5H746.0M481.0 383.5H746.0M481.0 405.5H746.0M481.0 426.5H746.0M481.0 449.5H746.0" stroke="#161616" stroke-width="1.0" fill="none"/>
<path d="M482 340.6L533 341.4L560 342L591 343.4L612 344L665.6 345.7L700 346.9L744.8 348.3V372.9L718.7 367L700 363.5L692.6 362.7L639 356.1L612.6 351.8L560.5 346.7L507.4 342.4L482 341.4z" fill="#a0a0a2"/>
<rect x="561.6" y="323.0" width="182.6" height="15.2" fill="#fff"/>
<rect x="534.2" y="390.0" width="127.0" height="31.6" fill="#fff"/>
<text x="460.8" y="343.7" font-size="10.0" textLength="14.7" lengthAdjust="spacingAndGlyphs" fill="#161616" stroke="#161616" stroke-width="0.35">100</text>
<text x="464.6" y="365.7" font-size="10.0" textLength="10.9" lengthAdjust="spacingAndGlyphs" fill="#161616" stroke="#161616" stroke-width="0.35">80</text>
<text x="464.6" y="386.7" font-size="10.0" textLength="10.9" lengthAdjust="spacingAndGlyphs" fill="#161616" stroke="#161616" stroke-width="0.35">60</text>
<text x="464.6" y="408.8" font-size="10.0" textLength="10.9" lengthAdjust="spacingAndGlyphs" fill="#161616" stroke="#161616" stroke-width="0.35">40</text>
<text x="464.6" y="430.4" font-size="10.0" textLength="10.9" lengthAdjust="spacingAndGlyphs" fill="#161616" stroke="#161616" stroke-width="0.35">20</text>
<text x="466.5" y="452.4" font-size="10.0" textLength="5.0" lengthAdjust="spacingAndGlyphs" fill="#161616" stroke="#161616" stroke-width="0.35">0</text>
<text x="478.5" y="462.5" font-size="10.0" textLength="5.0" lengthAdjust="spacingAndGlyphs" fill="#161616" stroke="#161616" stroke-width="0.35">0</text>
<text x="529.9" y="462.5" font-size="10.0" textLength="5.0" lengthAdjust="spacingAndGlyphs" fill="#161616" stroke="#161616" stroke-width="0.35">1</text>
<text x="583.5" y="462.5" font-size="10.0" textLength="5.0" lengthAdjust="spacingAndGlyphs" fill="#161616" stroke="#161616" stroke-width="0.35">2</text>
<text x="638.3" y="462.5" font-size="10.0" textLength="5.0" lengthAdjust="spacingAndGlyphs" fill="#161616" stroke="#161616" stroke-width="0.35">3</text>
<text x="690.1" y="462.5" font-size="10.0" textLength="5.0" lengthAdjust="spacingAndGlyphs" fill="#161616" stroke="#161616" stroke-width="0.35">4</text>
<text x="595.6" y="478.9" font-size="10.5" textLength="27.8" lengthAdjust="spacingAndGlyphs" font-weight="bold" fill="#161616" stroke="#161616" stroke-width="0.35">Years</text>
<text transform="translate(447.7 391.0) rotate(-90)" font-size="10.6" fill="#161616" text-anchor="middle" textLength="115.2" lengthAdjust="spacingAndGlyphs" font-weight="bold" stroke="#161616" stroke-width="0.35">Retention Capacity (%)</text>
<text x="565.3" y="334.6" font-size="10.4" textLength="166.0" lengthAdjust="spacingAndGlyphs" font-weight="bold" fill="#161616" stroke="#161616" stroke-width="0.35">Ambient Temperature 20°C (68°F)</text>
<text x="540.5" y="401.8" font-size="10.8" textLength="114.2" lengthAdjust="spacingAndGlyphs" font-weight="bold" fill="#161616" stroke="#161616" stroke-width="0.35">Float Charging Voltage</text>
<text x="556.4" y="413.5" font-size="10.8" textLength="82.6" lengthAdjust="spacingAndGlyphs" font-weight="bold" fill="#161616" stroke="#161616" stroke-width="0.35">2.25 - 2.30 V/Cell</text>
</g>
<text x="496.0" y="516.5" font-size="13.4" textLength="199.5" lengthAdjust="spacingAndGlyphs" fill="#3b6bad" stroke="#3b6bad" stroke-width="0.45">Life Characteristics in Cyclic Use</text>
<g id="c5">
<path d="M478.5 538.0V705.0M516.5 538.0V705.0M554.5 538.0V705.0M592.5 538.0V705.0M630.5 538.0V705.0M668.5 538.0V705.0M706.5 538.0V705.0M744.5 538.0V705.0M478.0 538.5H745.0M478.0 563.5H745.0M478.0 591.5H745.0M478.0 620.5H745.0M478.0 648.5H745.0M478.0 676.5H745.0M478.0 704.5H745.0" stroke="#161616" stroke-width="1.0" fill="none"/>
<path d="M479.6 565.0C480.1 564.3 481.0 561.6 482.4 560.6C483.8 559.6 485.3 559.2 487.7 558.8C490.1 558.4 491.6 558.2 496.5 558.2C501.4 558.2 511.0 558.5 517.3 558.7C523.6 558.9 527.9 558.6 534.2 559.2C540.5 559.8 548.8 561.1 555.1 562.3C561.4 563.5 565.9 565.4 572.2 566.6C578.5 567.8 586.5 568.2 593.0 569.6C599.5 571.0 604.7 573.2 611.0 575.3C617.3 577.4 624.3 579.8 630.8 582.4C637.3 585.0 643.6 588.0 650.0 591.0C656.4 594.0 662.9 597.4 669.2 600.6C675.5 603.8 681.8 607.1 688.0 610.3C694.2 613.5 703.5 618.4 706.6 620.0L677.0 620.0C675.7 619.3 673.7 618.3 669.2 615.7C664.7 613.1 656.4 608.0 650.0 604.3C643.6 600.6 637.3 596.9 630.8 593.5C624.3 590.1 617.3 586.9 611.0 584.0C604.7 581.1 599.5 578.3 593.0 575.9C586.5 573.5 578.5 571.5 572.2 569.6C565.9 567.7 561.3 565.5 555.1 564.2C548.9 562.9 541.4 562.4 535.0 562.0C528.6 561.6 523.5 561.9 517.0 562.0C510.5 562.1 501.0 562.1 496.0 562.4C491.0 562.7 489.7 562.9 487.0 563.6C484.3 564.3 480.8 566.1 479.6 566.6z" fill="#a9abab"/>
<path d="M497.6 562.2C498.7 563.5 501.7 567.2 503.9 570.2C506.1 573.2 508.7 576.7 510.9 580.3C513.1 583.9 514.7 587.5 516.9 591.7C519.1 595.9 521.7 600.9 524.1 605.6C526.5 610.3 530.3 617.6 531.5 620.0L516.3 620.0C516.0 618.6 515.6 615.4 514.7 611.9C513.8 608.4 512.3 603.4 510.9 599.2C509.5 595.0 508.2 591.0 506.4 586.6C504.6 582.2 502.1 576.7 500.1 572.7C498.1 568.7 495.3 564.3 494.4 562.6z" fill="#a9abab"/>
<path d="M521.6 562.4C523.7 563.7 530.4 567.6 534.2 570.2C538.0 572.8 540.9 574.5 544.4 577.8C547.9 581.1 551.5 585.4 555.1 589.8C558.7 594.2 562.2 599.3 565.9 604.3C569.5 609.3 575.1 617.4 577.0 620.0L558.8 620.0C558.3 618.6 556.9 614.5 555.7 611.9C554.6 609.3 553.8 607.7 551.9 604.3C550.0 600.9 546.9 595.7 544.4 591.7C541.9 587.7 539.5 583.7 536.8 580.3C534.0 576.9 531.2 574.3 527.9 571.4C524.6 568.5 518.7 564.1 516.9 562.6z" fill="#a9abab"/>
<rect x="496.0" y="621.0" width="45.5" height="19.2" fill="#fff"/>
<rect x="556.2" y="621.0" width="40.0" height="19.2" fill="#fff"/>
<rect x="680.5" y="621.0" width="41.0" height="18.5" fill="#fff"/>
<rect x="511.0" y="658.4" width="231.0" height="13.0" fill="#fff"/>
<rect x="510.4" y="670.0" width="114.6" height="12.0" fill="#fff"/>
<rect x="511.0" y="681.0" width="231.0" height="12.3" fill="#fff"/>
<text x="459.1" y="546.0" font-size="10.0" textLength="15.3" lengthAdjust="spacingAndGlyphs" fill="#161616" stroke="#161616" stroke-width="0.35">120</text>
<text x="459.1" y="568.0" font-size="10.0" textLength="15.3" lengthAdjust="spacingAndGlyphs" fill="#161616" stroke="#161616" stroke-width="0.35">100</text>
<text x="463.0" y="595.0" font-size="10.0" textLength="11.4" lengthAdjust="spacingAndGlyphs" fill="#161616" stroke="#161616" stroke-width="0.35">80</text>
<text x="463.0" y="623.6" font-size="10.0" textLength="11.4" lengthAdjust="spacingAndGlyphs" fill="#161616" stroke="#161616" stroke-width="0.35">60</text>
<text x="463.0" y="651.6" font-size="10.0" textLength="11.4" lengthAdjust="spacingAndGlyphs" fill="#161616" stroke="#161616" stroke-width="0.35">40</text>
<text x="463.0" y="679.4" font-size="10.0" textLength="11.4" lengthAdjust="spacingAndGlyphs" fill="#161616" stroke="#161616" stroke-width="0.35">20</text>
<text x="466.5" y="709.7" font-size="10.0" textLength="5.0" lengthAdjust="spacingAndGlyphs" fill="#161616" stroke="#161616" stroke-width="0.35">0</text>
<text x="475.6" y="718.5" font-size="10.0" textLength="4.8" lengthAdjust="spacingAndGlyphs" fill="#161616" stroke="#161616" stroke-width="0.35">0</text>
<text x="510.5" y="718.5" font-size="10.0" textLength="13.4" lengthAdjust="spacingAndGlyphs" fill="#161616" stroke="#161616" stroke-width="0.35">200</text>
<text x="548.0" y="718.5" font-size="10.0" textLength="13.4" lengthAdjust="spacingAndGlyphs" fill="#161616" stroke="#161616" stroke-width="0.35">400</text>
<text x="585.9" y="718.5" font-size="10.0" textLength="13.4" lengthAdjust="spacingAndGlyphs" fill="#161616" stroke="#161616" stroke-width="0.35">600</text>
<text x="623.5" y="718.5" font-size="10.0" textLength="13.4" lengthAdjust="spacingAndGlyphs" fill="#161616" stroke="#161616" stroke-width="0.35">800</text>
<text x="659.0" y="718.5" font-size="10.0" textLength="18.2" lengthAdjust="spacingAndGlyphs" fill="#161616" stroke="#161616" stroke-width="0.35">1000</text>
<text x="696.9" y="718.5" font-size="10.0" textLength="18.2" lengthAdjust="spacingAndGlyphs" fill="#161616" stroke="#161616" stroke-width="0.35">1200</text>
<text x="550.9" y="732.9" font-size="10.5" textLength="89.4" lengthAdjust="spacingAndGlyphs" font-weight="bold" fill="#161616" stroke="#161616" stroke-width="0.35">Number of Cycles</text>
<text transform="translate(447.7 631.0) rotate(-90)" font-size="10.6" fill="#161616" text-anchor="middle" textLength="110.7" lengthAdjust="spacingAndGlyphs" font-weight="bold" stroke="#161616" stroke-width="0.35">Retention Capacity (%)</text>
<text x="497.0" y="627.6" font-size="8.2" textLength="36.5" lengthAdjust="spacingAndGlyphs" font-weight="bold" fill="#161616" stroke="#161616" stroke-width="0.35">Discharge</text>
<text x="497.0" y="638.2" font-size="8.2" textLength="43.5" lengthAdjust="spacingAndGlyphs" font-weight="bold" fill="#161616" stroke="#161616" stroke-width="0.35">Depth 100%</text>
<text x="556.4" y="627.6" font-size="8.2" textLength="36.6" lengthAdjust="spacingAndGlyphs" font-weight="bold" fill="#161616" stroke="#161616" stroke-width="0.35">Discharge</text>
<text x="556.4" y="638.2" font-size="8.2" textLength="38.5" lengthAdjust="spacingAndGlyphs" font-weight="bold" fill="#161616" stroke="#161616" stroke-width="0.35">Depth 50%</text>
<text x="681.5" y="627.6" font-size="8.2" textLength="36.5" lengthAdjust="spacingAndGlyphs" font-weight="bold" fill="#161616" stroke="#161616" stroke-width="0.35">Discharge</text>
<text x="681.5" y="638.2" font-size="8.2" textLength="39.0" lengthAdjust="spacingAndGlyphs" font-weight="bold" fill="#161616" stroke="#161616" stroke-width="0.35">Depth 30%</text>
<text x="513.4" y="666.7" font-size="10.6" textLength="221.2" lengthAdjust="spacingAndGlyphs" font-weight="bold" fill="#161616" stroke="#161616" stroke-width="0.35">1. Discharge Current 0.2C (Final Voltage 1.7V/Cell)</text>
<text x="513.4" y="678.8" font-size="10.6" textLength="102.9" lengthAdjust="spacingAndGlyphs" font-weight="bold" fill="#161616" stroke="#161616" stroke-width="0.35">2. Charge Current: 0.1C</text>
<text x="513.4" y="689.5" font-size="10.6" textLength="226.8" lengthAdjust="spacingAndGlyphs" font-weight="bold" fill="#161616" stroke="#161616" stroke-width="0.35">3. Ambient Temperature: 20°C to 25°C (68°F to 77°F)</text>
</g>
<g id="txt">
<rect x="15.1" y="577.0" width="374.5" height="19.9" fill="#0065a7"/>
<rect x="15.1" y="771.0" width="374.5" height="19.6" fill="#0065a7"/>
<rect x="418.8" y="770.7" width="364.4" height="20.0" fill="#0065a7"/>
<text x="20.4" y="591.5" font-size="14" textLength="63.1" lengthAdjust="spacingAndGlyphs" font-weight="bold" fill="#fff" stroke="#fff" stroke-width="0.55">Charging</text>
<text x="20.2" y="785.9" font-size="14" textLength="63.3" lengthAdjust="spacingAndGlyphs" font-weight="bold" fill="#fff" stroke="#fff" stroke-width="0.55">Chargers</text>
<text x="424.7" y="785.8" font-size="14" textLength="136.5" lengthAdjust="spacingAndGlyphs" font-weight="bold" fill="#fff" stroke="#fff" stroke-width="0.55">Further Information</text>
<text x="15.3" y="612.6" font-size="11" textLength="94.4" lengthAdjust="spacingAndGlyphs" font-weight="bold" fill="#161616" stroke="#161616" stroke-width="0.45">Cycle Applications:</text>
<text x="113.3" y="612.6" font-size="11" textLength="246.0" lengthAdjust="spacingAndGlyphs" fill="#161616" stroke="#161616" stroke-width="0.12">Limit initial current to 7.8A. Charge until battery voltage</text>
<text x="15.3" y="625.2" font-size="11" textLength="357.9" lengthAdjust="spacingAndGlyphs" fill="#161616" stroke="#161616" stroke-width="0.12">(under charge) reaches 14.4 to 14.7 volts at 68°F (20°C). Hold at 14.4 to 14.7</text>
<text x="15.3" y="637.8" font-size="11" textLength="345.3" lengthAdjust="spacingAndGlyphs" fill="#161616" stroke="#161616" stroke-width="0.12">volts until current drops to under 260mA. Battery is fully charged under these</text>
<text x="15.3" y="650.4" font-size="11" textLength="347.8" lengthAdjust="spacingAndGlyphs" fill="#161616" stroke="#161616" stroke-width="0.12">conditions, and charger should be disconnected or switched to “float” voltage.</text>
<text x="15.2" y="676.5" font-size="11" textLength="147.9" lengthAdjust="spacingAndGlyphs" font-weight="bold" fill="#161616" stroke="#161616" stroke-width="0.45">“Float” or “Stand-By” Service:</text>
<text x="166.4" y="676.5" font-size="11" textLength="206.3" lengthAdjust="spacingAndGlyphs" fill="#161616" stroke="#161616" stroke-width="0.12">Hold battery across constant voltage source of</text>
<text x="15.3" y="689.1" font-size="11" textLength="365.5" lengthAdjust="spacingAndGlyphs" fill="#161616" stroke="#161616" stroke-width="0.12">13.5 to 13.8 volts continuously. When held at this voltage, the battery will seek its</text>
<text x="15.3" y="701.7" font-size="11" textLength="287.9" lengthAdjust="spacingAndGlyphs" fill="#161616" stroke="#161616" stroke-width="0.12">own current level and maintain itself in a fully charged condition.</text>
<text x="14.9" y="727.4" font-size="11" textLength="25.6" lengthAdjust="spacingAndGlyphs" font-weight="bold" fill="#161616" stroke="#161616" stroke-width="0.45">Note:</text>
<text x="44.2" y="727.4" font-size="11" textLength="299.4" lengthAdjust="spacingAndGlyphs" fill="#161616" stroke="#161616" stroke-width="0.12">Due to the self-discharge characteristics of this type of battery, it is</text>
<text x="15.3" y="740.0" font-size="11" textLength="365.5" lengthAdjust="spacingAndGlyphs" fill="#161616" stroke="#161616" stroke-width="0.12">imperative that they be charged within 6 months of storage, otherwise permanent</text>
<text x="15.3" y="752.9" font-size="11" textLength="228.9" lengthAdjust="spacingAndGlyphs" fill="#161616" stroke="#161616" stroke-width="0.12">loss of capacity might occur as a result of sulfation.</text>
<text x="15.3" y="806.5" font-size="11" textLength="352.8" lengthAdjust="spacingAndGlyphs" fill="#161616" stroke="#161616" stroke-width="0.12">Power-Sonic offers a wide range of chargers suitable for batteries up to 100AH.</text>
<text x="15.3" y="819.2" font-size="11" textLength="371.8" lengthAdjust="spacingAndGlyphs" fill="#161616" stroke="#161616" stroke-width="0.12">Please refer to the Charger Selection Guide in our specification sheets for “C-Series</text>
<text x="15.3" y="831.8" font-size="11" textLength="367.3" lengthAdjust="spacingAndGlyphs" fill="#161616" stroke="#161616" stroke-width="0.12">Switch Mode Chargers” and “Transformer Type A and F Series”. Please contact our</text>
<text x="15.0" y="844.5" font-size="11" textLength="360.0" lengthAdjust="spacingAndGlyphs" fill="#161616" stroke="#161616" stroke-width="0.12">Technical department for advice if you have difficulty in locating suitable models.</text>
<text x="419.6" y="806.6" font-size="11" textLength="356.5" lengthAdjust="spacingAndGlyphs" fill="#161616" stroke="#161616" stroke-width="0.12">Please refer to our website www.power-sonic.com for a complete range of useful</text>
<text x="419.3" y="819.3" font-size="11" textLength="349.4" lengthAdjust="spacingAndGlyphs" fill="#161616" stroke="#161616" stroke-width="0.12">downloads, such as product catalogs, material safety data sheets (MSDS), ISO</text>
<text x="419.3" y="831.8" font-size="11" textLength="76.2" lengthAdjust="spacingAndGlyphs" fill="#161616" stroke="#161616" stroke-width="0.12">certification, etc..</text>
</g>
<!--END-->
</svg>
</body></html>
